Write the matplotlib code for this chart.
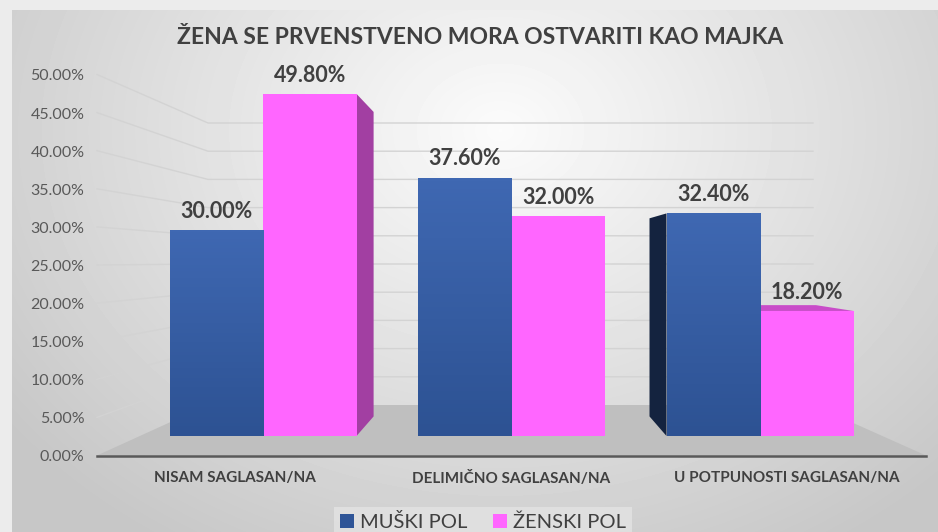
import numpy as np
import matplotlib.pyplot as plt
from matplotlib.patches import Polygon
from matplotlib.colors import LinearSegmentedColormap
from matplotlib.ticker import PercentFormatter

# Podaci
title = 'ŽENA SE PRVENSTVENO MORA OSTVARITI KAO MAJKA'
categories = ['NISAM SAGLASAN/NA', 'DELIMIČNO SAGLASAN/NA', 'U POTPUNOSTI SAGLASAN/NA']
series_names = ['MUŠKI POL', 'ŽENSKI POL']
muski = [30.0, 37.6, 32.4]
zenski = [49.8, 32.0, 18.2]
y_ticks = [0, 5, 10, 15, 20, 25, 30, 35, 40, 45, 50]

blue = '#2f5597'
pink = '#ff66ff'
W, H = 938, 532

plt.rcParams['font.family'] = ['Lato', 'DejaVu Sans']

fig = plt.figure(figsize=(W / 100, H / 100), dpi=100, facecolor='#ececec')

# Pozadina s gradijentom (koordinate u pikselima)
bg = fig.add_axes([0, 0, 1, 1])
bg.set_xlim(0, W)
bg.set_ylim(H, 0)
bg.axis('off')
yy, xx = np.mgrid[10:H, 12:W]
d = np.sqrt(((xx - 500) / 540.0) ** 2 + ((yy - 130) / 430.0) ** 2)
shade = np.clip(0.985 - 0.18 * np.clip(d, 0, 1.15), 0, 1)
bg.imshow(shade, cmap='gray', vmin=0, vmax=1, extent=(12, W, H, 10), aspect='auto', zorder=0)


# Perspektiva: prednja ravan (ose), zadnji zid
def y_front(v):
    return 455.5 - 7.62 * v


def y_back(v):
    return 405 - 5.64 * v


for v in y_ticks[1:]:
    bg.plot([97, 208, 813], [y_front(v), y_back(v), y_back(v)], color='#d3d3d3', lw=1, zorder=1)

bg.add_patch(Polygon([(97, y_front(0)), (208, y_back(0)), (813, y_back(0)), (926, y_front(0))],
                     closed=True, facecolor='#bfbfbf', edgecolor='none', zorder=1))
bg.plot([97, 926], [y_front(0), y_front(0)], color='#595959', lw=1.8, zorder=2)

# Prednja ravan: oznake osa
ax_f = fig.add_axes([97 / W, (H - 455.5) / H, (926 - 97) / W, (455.5 - 75) / H])
ax_f.set_facecolor('none')
ax_f.set_ylim(0, 50)
ax_f.set_xlim(-0.502, 2.506)
ax_f.set_yticks(y_ticks)
ax_f.yaxis.set_major_formatter(PercentFormatter(decimals=2))
ax_f.set_xticks(range(len(categories)))
ax_f.set_xticklabels(categories, fontweight='bold', fontsize=11)
for s in ax_f.spines.values():
    s.set_visible(False)
ax_f.tick_params(axis='y', length=0, pad=9, labelsize=11.5, labelcolor='#595959')
ax_f.tick_params(axis='x', length=0, pad=11, labelcolor='#404040')

# Ravan stubića
ax = fig.add_axes([97 / W, (H - 436) / H, (926 - 97) / W, (436 - 75) / H])
ax.set_facecolor('none')
ax.set_ylim(0, 361 / 6.87)
ax.set_xlim((97 - 263) / 248.5, (926 - 263) / 248.5)
ax.axis('off')

x = np.arange(len(categories))
w = 93.5 / 248.5
b1 = ax.bar(x - w / 2, muski, w, color=blue, zorder=3, label=series_names[0])
b2 = ax.bar(x + w / 2, zenski, w, color=pink, zorder=3, label=series_names[1])

# blagi gradijent na plavim stubićima
blue_grad = LinearSegmentedColormap.from_list('bg', ['#2d5293', '#3f68b2'])
for p in b1:
    im = ax.imshow(np.linspace(0, 1, 64).reshape(-1, 1), cmap=blue_grad, origin='lower', aspect='auto',
                   extent=(p.get_x(), p.get_x() + p.get_width(), 0, p.get_height()), zorder=3.1)
    im.set_clip_path(p)
ax.set_xlim((97 - 263) / 248.5, (926 - 263) / 248.5)
ax.set_ylim(0, 361 / 6.87)

# Bočne i gornje strane stubića (perspektiva prema tački nestajanja)
vp = np.array([512.0, H - 258.0])
r = 0.89
inv = ax.transData.inverted()


def back(p):
    return vp + (np.asarray(p) - vp) * r


def add_face(pts, color):
    ax.add_patch(Polygon(inv.transform(np.array(pts)), closed=True, facecolor=color,
                         edgecolor='none', zorder=2, clip_on=False))


for bars, side_r, side_l, top_c in [(b1, '#1f3864', '#14233f', '#3a62aa'),
                                    (b2, '#a23fa2', '#a23fa2', '#c94cc9')]:
    for p in bars:
        (x0, y0), (x1, y1) = ax.transData.transform([(p.get_x(), 0), (p.get_x() + p.get_width(), p.get_height())])
        if x1 < vp[0] - 2:
            add_face([(x1, y0), (x1, y1), back((x1, y1)), back((x1, y0))], side_r)
        if x0 > vp[0] + 2:
            add_face([(x0, y0), (x0, y1), back((x0, y1)), back((x0, y0))], side_l)
        if y1 < vp[1]:
            add_face([(x0, y1), (x1, y1), back((x1, y1)), back((x0, y1))], top_c)

for bars in (b1, b2):
    ax.bar_label(bars, fmt='%.2f%%', padding=6, fontsize=15.5, fontweight='bold', color='#404040')

fig.text(480 / W, 1 - 37 / H, title, ha='center', va='center', fontsize=16.5,
         fontweight='bold', color='#404040')

leg = fig.legend(handles=[b1, b2], labels=series_names, loc='upper center',
                 bbox_to_anchor=(483 / W, 1 - 497 / H), ncol=2, frameon=True,
                 fontsize=14.5, handlelength=0.7, handleheight=0.7, handletextpad=0.3,
                 columnspacing=1.3, borderpad=0.3, fancybox=False)
leg.get_frame().set_facecolor('#e3e3e3')
leg.get_frame().set_edgecolor('none')
for t in leg.get_texts():
    t.set_color('#404040')

fig.savefig('out.png', dpi=100, facecolor=fig.get_facecolor())
